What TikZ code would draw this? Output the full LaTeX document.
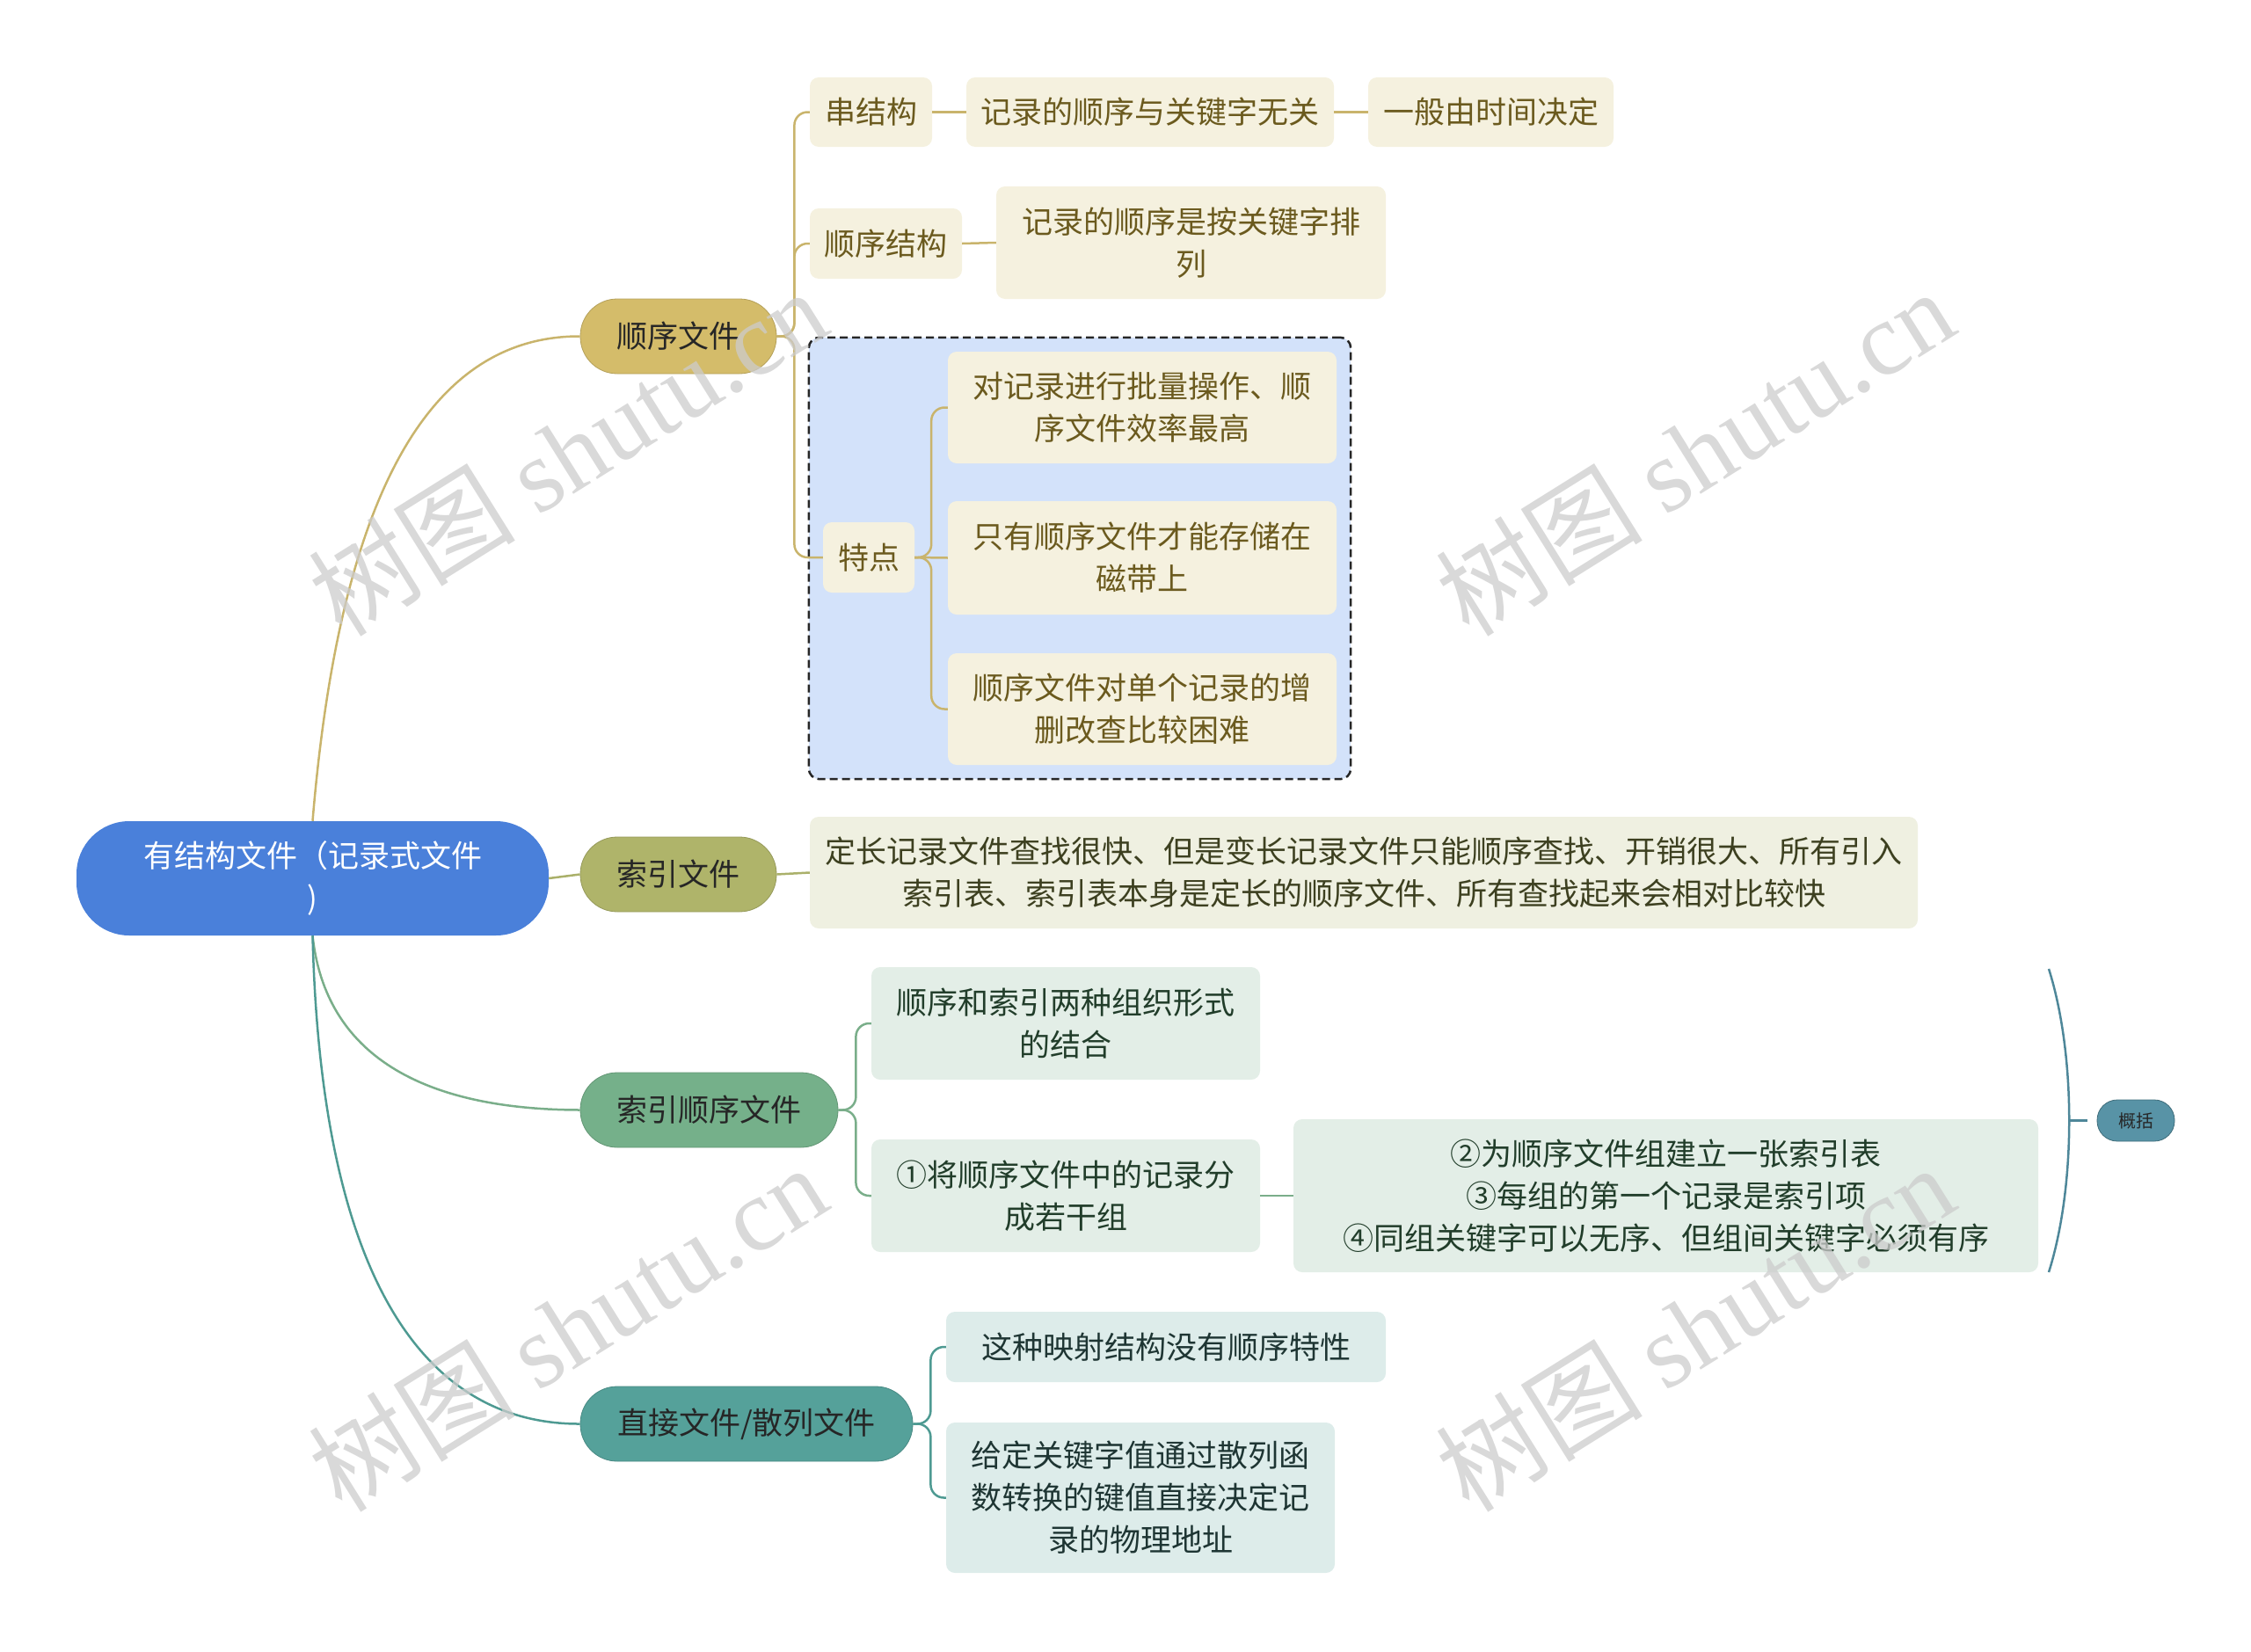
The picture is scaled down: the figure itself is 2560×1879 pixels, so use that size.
\documentclass[tikz,border=0pt]{standalone}
\usepackage{fontspec}
\setmainfont{Noto Sans CJK SC}
\newfontfamily\wmfont{Liberation Serif}
\usetikzlibrary{positioning,fit,backgrounds}

\definecolor{rootblue}{HTML}{4A80DA}
\definecolor{goldmain}{HTML}{D4BC6A}
\definecolor{olivemain}{HTML}{AFB46A}
\definecolor{greenmain}{HTML}{75B08A}
\definecolor{tealmain}{HTML}{55A19A}
\definecolor{goldleaf}{HTML}{F5F1DF}
\definecolor{oliveleaf}{HTML}{EFF0E1}
\definecolor{greenleaf}{HTML}{E3EEE7}
\definecolor{tealleaf}{HTML}{DDECEA}
\definecolor{goldtext}{HTML}{6B5A1E}
\definecolor{olivetext}{HTML}{3D4020}
\definecolor{greentext}{HTML}{213D2A}
\definecolor{tealtext}{HTML}{1E3533}
\definecolor{goldline}{HTML}{C9B46C}
\definecolor{oliveline}{HTML}{AAB06A}
\definecolor{greenline}{HTML}{7AAE8A}
\definecolor{tealline}{HTML}{4E9A92}
\definecolor{summline}{HTML}{4E8799}
\definecolor{summfill}{HTML}{5893A6}
\definecolor{boxblue}{HTML}{D3E2FA}

\tikzset{
  topic/.style={rounded corners=42pt, minimum height=85pt, inner sep=0pt, text=black!85, draw=#1!85!black, line width=0.8pt, fill=#1},
  leaf/.style={rounded corners=10pt, inner sep=0pt},
  goldbox/.style={leaf, fill=goldleaf, text=goldtext},
  olivebox/.style={leaf, fill=oliveleaf, text=olivetext},
  greenbox/.style={leaf, fill=greenleaf, text=greentext},
  tealbox/.style={leaf, fill=tealleaf, text=tealtext},
  link/.style={draw=#1, line width=2.5pt, rounded corners=15pt},
  wmark/.style={rotate=32, text=black!20, opacity=0.75, font=\fontsize{118}{118}\selectfont}
}

\begin{document}
\begin{tikzpicture}[x=1pt, y=-1pt, font=\fontsize{35}{48}\selectfont, every node/.style={align=center}]
  \useasboundingbox (0,0) rectangle (2560,1879);

  % main branches
  \node[rounded corners=60pt, fill=rootblue, text=white, minimum width=537pt, minimum height=130pt, inner sep=0pt] (root) at (355.5,999) {有结构文件（记录式文件\\)};
  \node[topic=goldmain, minimum width=223pt] (seqf) at (771.5,382.5) {顺序文件};
  \node[topic=olivemain, minimum width=223pt] (idxf) at (771.5,994.5) {索引文件};
  \node[topic=greenmain, minimum width=293pt] (isf) at (806.5,1262.5) {索引顺序文件};
  \node[topic=tealmain, minimum width=378pt] (hashf) at (849,1619.5) {直接文件/散列文件};

  % sequential file
  \node[goldbox, minimum width=139pt, minimum height=79pt] (chuan) at (990.5,127.5) {串结构};
  \node[goldbox, minimum width=418pt, minimum height=79pt] (chuanA) at (1308,127.5) {记录的顺序与关键字无关};
  \node[goldbox, minimum width=279pt, minimum height=79pt] (chuanB) at (1695.5,127.5) {一般由时间决定};
  \node[goldbox, minimum width=173pt, minimum height=80pt] (shunjg) at (1007.5,277) {顺序结构};
  \node[goldbox, minimum width=443pt, minimum height=128pt] (shunjgA) at (1354.5,276) {记录的顺序是按关键字排\\列};
  \node[goldbox, minimum width=104pt, minimum height=80pt] (tedian) at (988,634) {特点};
  \node[goldbox, minimum width=442pt, minimum height=127pt] (td1) at (1299,463.5) {对记录进行批量操作、顺\\序文件效率最高};
  \node[goldbox, minimum width=442pt, minimum height=129pt] (td2) at (1299,634.5) {只有顺序文件才能存储在\\磁带上};
  \node[goldbox, minimum width=442pt, minimum height=127pt] (td3) at (1299,806.5) {顺序文件对单个记录的增\\删改查比较困难};
  \begin{scope}[on background layer]
    \node[fit=(tedian)(td1)(td3), inner sep=16pt, rounded corners=12pt, fill=boxblue, draw=black!85, line width=2.5pt, dash pattern=on 9pt off 5pt] (tdframe) {};
  \end{scope}

  % index file
  \node[olivebox, minimum width=1260pt, minimum height=127pt] (idxA) at (1551,992.5) {定长记录文件查找很快、但是变长记录文件只能顺序查找、开销很大、所有引入\\索引表、索引表本身是定长的顺序文件、所有查找起来会相对比较快};

  % indexed sequential file
  \node[greenbox, minimum width=442pt, minimum height=128pt] (isA) at (1212,1164) {顺序和索引两种组织形式\\的结合};
  \node[greenbox, minimum width=442pt, minimum height=128pt] (isB) at (1212,1360) {①将顺序文件中的记录分\\成若干组};
  \node[greenbox, minimum width=847pt, minimum height=174pt] (isC) at (1894.5,1360) {②为顺序文件组建立一张索引表\\③每组的第一个记录是索引项\\④同组关键字可以无序、但组间关键字必须有序};
  \node[rounded corners=23pt, fill=summfill, draw=summline!80!black, line width=0.8pt, text=black!85, minimum width=88pt, minimum height=47pt, inner sep=0pt, font=\fontsize{20}{24}\selectfont] (summ) at (2429,1274.5) {概括};

  % hash file
  \node[tealbox, minimum width=500pt, minimum height=80pt] (hashA) at (1326,1532) {这种映射结构没有顺序特性};
  \node[tealbox, minimum width=442pt, minimum height=171pt] (hashB) at (1297,1703.5) {给定关键字值通过散列函\\数转换的键值直接决定记\\录的物理地址};

  % connectors
  \draw[link=goldline] (root.north) .. controls (385,580) and (480,382) .. (seqf.west);
  \draw[link=oliveline] (root.east) -- (idxf.west);
  \draw[link=greenline] (root.south) .. controls (370,1200) and (480,1262) .. (isf.west);
  \draw[link=tealline] (root.south) .. controls (365,1450) and (480,1620) .. (hashf.west);

  \draw[link=goldline] (seqf.east) -- ++(20,0) |- (chuan.west);
  \draw[link=goldline] (seqf.east) -- ++(20,0) |- (shunjg.west);
  \draw[link=goldline] (seqf.east) -- ++(20,0) |- (tedian.west);
  \draw[link=goldline] (chuan.east) -- (chuanA.west);
  \draw[link=goldline] (chuanA.east) -- (chuanB.west);
  \draw[link=goldline] (shunjg.east) -- (shunjgA.west);
  \draw[link=goldline] (tedian.east) -- ++(19,0) |- (td1.west);
  \draw[link=goldline] (tedian.east) -- (td2.west);
  \draw[link=goldline] (tedian.east) -- ++(19,0) |- (td3.west);

  \draw[link=oliveline] (idxf.east) -- (idxA.west);

  \draw[link=greenline] (isf.east) -- ++(20,0) |- (isA.west);
  \draw[link=greenline] (isf.east) -- ++(20,0) |- (isB.west);
  \draw[link=greenline] (isB.east) -- (isC.west);

  \draw[link=tealline] (hashf.east) -- ++(20,0) |- (hashA.west);
  \draw[link=tealline] (hashf.east) -- ++(20,0) |- (hashB.west);

  % summary brace
  \coordinate (brTop) at (2330,1102);
  \coordinate (brBot) at (2330,1447);
  \coordinate (brMid) at (2353,1274.5);
  \draw[draw=summline, line width=2.5pt] (brTop) .. controls (2361,1200) and (2361,1349) .. (brBot);
  \draw[draw=summline, line width=2.5pt] (brMid) -- ([xshift=-11pt]summ.west);

  % watermarks
  \foreach \wx/\wy [count=\wi] in {645/514,1927/514,645/1510,1927/1510}
    \node[wmark] (wm\wi) at (\wx,\wy) {树图 {\wmfont shutu.cn}};
\end{tikzpicture}
\end{document}
